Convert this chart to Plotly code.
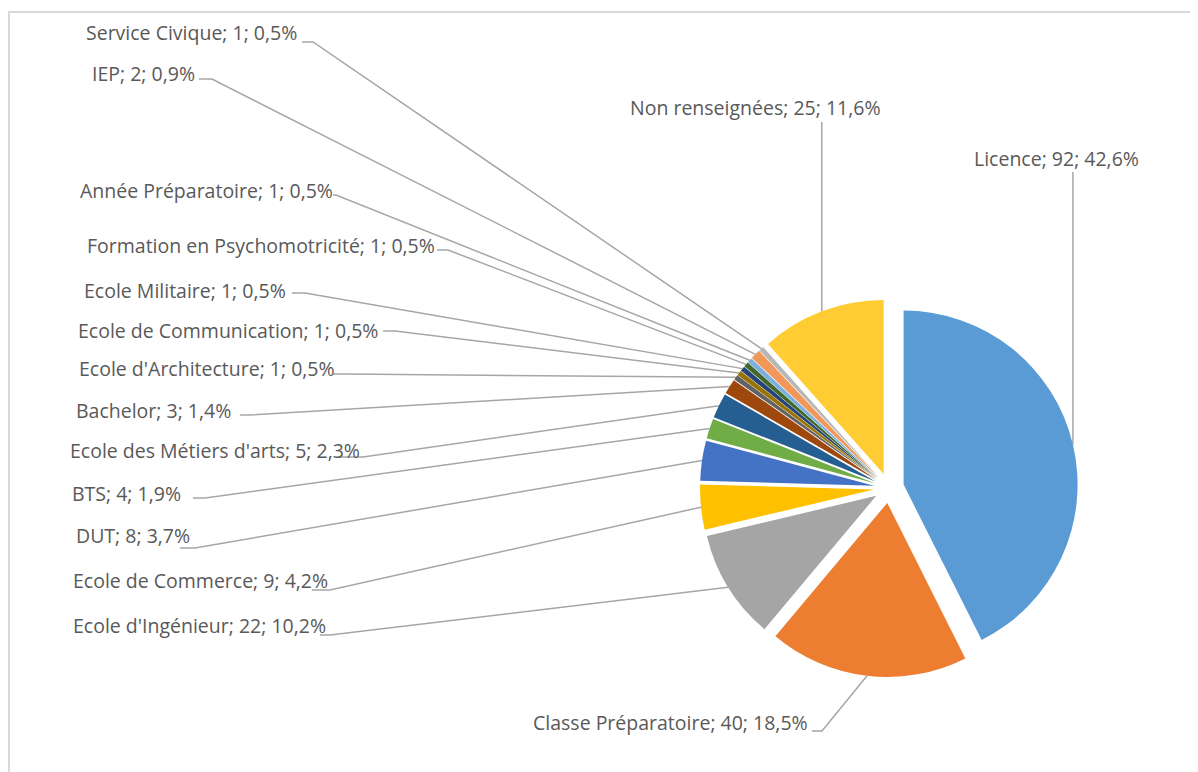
import math
import plotly.graph_objects as go

# ---------------- data ----------------
categories = ["Licence", "Classe Préparatoire", "Ecole d'Ingénieur", "Ecole de Commerce", "DUT", "BTS",
              "Ecole des Métiers d'arts", "Bachelor", "Ecole d'Architecture", "Ecole de Communication",
              "Ecole Militaire", "Formation en Psychomotricité", "Année Préparatoire", "IEP",
              "Service Civique", "Non renseignées"]
counts = [92, 40, 22, 9, 8, 4, 5, 3, 1, 1, 1, 1, 1, 2, 1, 25]

# ---------------- style / layout ----------------
colors = ["#5B9BD5", "#ED7D31", "#A5A5A5", "#FFC000", "#4472C4", "#70AD47", "#255E91", "#9E480E",
          "#636363", "#997300", "#264478", "#43682B", "#7CAFDD", "#F1975A", "#B7B7B7", "#FFCD33"]

WIN_W, WIN_H = 1198, 772
OFF = 8                         # page body margin
W, H = WIN_W - OFF, WIN_H - OFF
CX, CY, R = 889, 488, 174       # pie centre and radius in window pixels
PULL = 15 / 174                 # explosion of every slice

# label placement (window pixels): anchor side, anchor x, centre y
label_side = ["left", "right", "right", "right", "right", "right", "right", "right", "right", "right",
              "right", "right", "right", "right", "right", "left"]
label_x = [972, 810, 328, 330, 192, 183, 362, 233, 337, 380, 288, 437, 335, 197, 299, 628]
label_y = [158, 722, 625, 580, 535, 493, 450, 410, 368, 330, 290, 245, 190, 73, 32, 107]
# leader line start / elbow (window pixels); None -> vertical line from line_y
line_x0 = [None, 812, 320, 312, 180, 193, 340, 240, 333, 383, 292, 437, 333, 199, 302, None]
line_x1 = [None, 822, 330, 330, 195, 205, 363, 250, 345, 395, 305, 448, 336, 212, 313, None]
line_y = [172, 731, 635, 590, 548, 498, 457, 415, 374, 331, 293, 250, 195, 79, 42, 122]

FONT = dict(family="'Open Sans', Lato, sans-serif", size=19.5, color="#595959")
LINE_COLOR = "#A6A6A6"


def fmt_pct(v, total):
    return f"{100 * v / total:.1f}".replace(".", ",")


total = sum(counts)
texts = [f"{c}; {v}; {fmt_pct(v, total)}%" for c, v in zip(categories, counts)]

fig = go.Figure()

# leader lines on a pixel-scaled overlay axis
cum = 0
for i, v in enumerate(counts):
    theta = 2 * math.pi * (cum + v / 2) / total
    cum += v
    rr = R * (1 + PULL)
    ax = CX + rr * math.sin(theta)
    ay = CY - rr * math.cos(theta)
    if line_x0[i] is None:
        xs = [ax, ax]
        ys = [line_y[i], ay]
    else:
        xs = [line_x0[i], line_x1[i], ax]
        ys = [line_y[i], line_y[i], ay]
    fig.add_trace(go.Scatter(x=xs, y=ys, mode="lines", line=dict(color=LINE_COLOR, width=1.5),
                             hoverinfo="skip", showlegend=False))

half = R * (1 + PULL)
fig.add_trace(go.Pie(
    labels=categories, values=counts, sort=False, direction="clockwise", rotation=0,
    pull=[PULL] * len(counts), marker=dict(colors=colors, line=dict(width=0)),
    textinfo="none", hovertemplate="%{label}; %{value}; %{percent}<extra></extra>",
    showlegend=False,
    domain=dict(x=[(CX - half - OFF) / W, (CX + half - OFF) / W],
                y=[1 - (CY + half - OFF) / H, 1 - (CY - half - OFF) / H]),
))

annotations = []
for i, t in enumerate(texts):
    annotations.append(dict(x=label_x[i], y=label_y[i], xref="x", yref="y", text=t, showarrow=False,
                            xanchor=label_side[i], yanchor="middle", font=FONT))

fig.update_layout(
    width=W, height=H, margin=dict(l=0, r=0, t=0, b=0),
    paper_bgcolor="white", plot_bgcolor="white",
    xaxis=dict(range=[OFF, WIN_W], visible=False, fixedrange=True),
    yaxis=dict(range=[WIN_H, OFF], visible=False, fixedrange=True),
    annotations=annotations,
    shapes=[dict(type="rect", xref="x", yref="y", x0=9, y0=12, x1=WIN_W + 10, y1=WIN_H + 10,
                 line=dict(color="#D9D9D9", width=2), fillcolor="rgba(0,0,0,0)", layer="below")],
)

fig.write_html("out.html")
